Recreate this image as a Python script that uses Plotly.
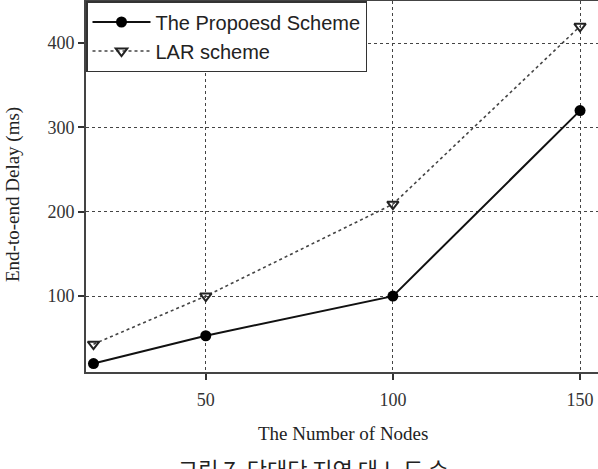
import plotly.graph_objects as go

nodes = [20, 50, 100, 150]
proposed = [20, 53, 100, 320]
lar = [43, 100, 209, 420]

x_ticks = [50, 100, 150]
y_ticks = [100, 200, 300, 400]

W, H = 598, 469
L, R, T, B = 86, 0, 1, 97
plot_w = W - L - R
plot_h = H - T - B

def px_x(p):
    return (p - L) / plot_w

def px_y(p):
    return (H - B - p) / plot_h

fig = go.Figure()
fig.add_trace(go.Scatter(
    x=nodes, y=proposed, name="The Propoesd Scheme", mode="lines+markers",
    line=dict(color="#111", width=2),
    marker=dict(symbol="circle", size=11, color="#000"),
))
fig.add_trace(go.Scatter(
    x=nodes, y=lar, name="LAR scheme", mode="lines+markers",
    line=dict(color="#444", width=1.6, dash="dot"),
    marker=dict(symbol="triangle-down-open", size=10, color="#222", line=dict(width=2)),
))

serif = "Liberation Serif"
fig.update_layout(
    width=W, height=H,
    margin=dict(l=L, r=R, t=T, b=B),
    paper_bgcolor="white", plot_bgcolor="white",
    showlegend=True,
    legend=dict(
        x=0, y=1, xanchor="left", yanchor="top",
        bgcolor="white", bordercolor="#333", borderwidth=1.5,
        font=dict(family="Liberation Sans", size=20, color="#222"),
        itemwidth=58, tracegroupgap=0,
    ),
    xaxis=dict(
        range=[18, 154.8], tickvals=x_ticks, ticks="outside", ticklen=6,
        tickwidth=1.5, tickcolor="#333", ticklabelstandoff=4,
        showline=True, linecolor="#444", linewidth=2, mirror=True,
        showgrid=True, gridcolor="#444", gridwidth=1, griddash="dot",
        zeroline=False,
        tickfont=dict(family=serif, size=18, color="#333"),
    ),
    yaxis=dict(
        range=[10, 450], tickvals=y_ticks, ticks="outside", ticklen=6,
        tickwidth=1.5, tickcolor="#333",
        showline=True, linecolor="#444", linewidth=2,
        showgrid=True, gridcolor="#444", gridwidth=1, griddash="dot",
        zeroline=False,
        tickfont=dict(family=serif, size=18, color="#333"),
    ),
    annotations=[
        dict(text="The Number of Nodes", xref="paper", yref="paper",
             x=px_x(343), y=px_y(433), xanchor="center", yanchor="middle",
             showarrow=False, font=dict(family=serif, size=19, color="#222")),
        dict(text="End-to-end Delay (ms)", xref="paper", yref="paper",
             x=px_x(13), y=px_y(195), xanchor="center", yanchor="middle",
             textangle=-90, showarrow=False,
             font=dict(family=serif, size=19, color="#222")),
        dict(text="그림 7. 단대단 지연 대 노드 수", xref="paper", yref="paper",
             x=px_x(313), y=px_y(450), xanchor="center", yanchor="top",
             showarrow=False,
             font=dict(family="Noto Sans CJK KR", size=22, color="#222")),
    ],
)

fig.write_html("out.html")
